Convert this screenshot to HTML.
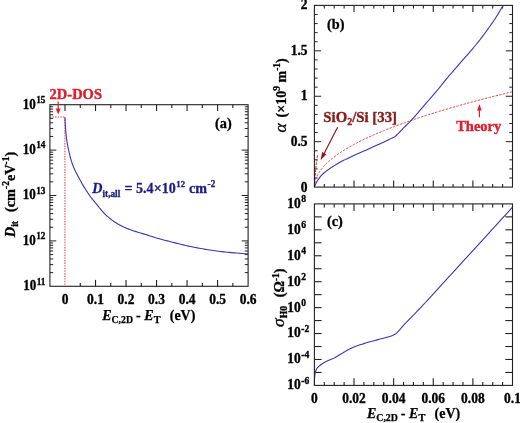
<!DOCTYPE html>
<html lang="en"><head><meta charset="utf-8"><title>Figure</title>
<style>html,body{margin:0;padding:0;background:#fff}svg{display:block;filter:blur(0.4px)}</style>
</head><body>
<svg width="520" height="423" viewBox="0 0 520 423">
<rect width="520" height="423" fill="#fff"/>
<line x1="65.00" y1="104.70" x2="65.00" y2="111.10" stroke="#222" stroke-width="1.1" />
<line x1="80.26" y1="286.30" x2="80.26" y2="283.00" stroke="#222" stroke-width="1.1" />
<line x1="80.26" y1="104.70" x2="80.26" y2="108.00" stroke="#222" stroke-width="1.1" />
<line x1="95.52" y1="286.30" x2="95.52" y2="279.90" stroke="#222" stroke-width="1.1" />
<line x1="95.52" y1="104.70" x2="95.52" y2="111.10" stroke="#222" stroke-width="1.1" />
<line x1="110.78" y1="286.30" x2="110.78" y2="283.00" stroke="#222" stroke-width="1.1" />
<line x1="110.78" y1="104.70" x2="110.78" y2="108.00" stroke="#222" stroke-width="1.1" />
<line x1="126.03" y1="286.30" x2="126.03" y2="279.90" stroke="#222" stroke-width="1.1" />
<line x1="126.03" y1="104.70" x2="126.03" y2="111.10" stroke="#222" stroke-width="1.1" />
<line x1="141.29" y1="286.30" x2="141.29" y2="283.00" stroke="#222" stroke-width="1.1" />
<line x1="141.29" y1="104.70" x2="141.29" y2="108.00" stroke="#222" stroke-width="1.1" />
<line x1="156.55" y1="286.30" x2="156.55" y2="279.90" stroke="#222" stroke-width="1.1" />
<line x1="156.55" y1="104.70" x2="156.55" y2="111.10" stroke="#222" stroke-width="1.1" />
<line x1="171.81" y1="286.30" x2="171.81" y2="283.00" stroke="#222" stroke-width="1.1" />
<line x1="171.81" y1="104.70" x2="171.81" y2="108.00" stroke="#222" stroke-width="1.1" />
<line x1="187.07" y1="286.30" x2="187.07" y2="279.90" stroke="#222" stroke-width="1.1" />
<line x1="187.07" y1="104.70" x2="187.07" y2="111.10" stroke="#222" stroke-width="1.1" />
<line x1="202.33" y1="286.30" x2="202.33" y2="283.00" stroke="#222" stroke-width="1.1" />
<line x1="202.33" y1="104.70" x2="202.33" y2="108.00" stroke="#222" stroke-width="1.1" />
<line x1="217.58" y1="286.30" x2="217.58" y2="279.90" stroke="#222" stroke-width="1.1" />
<line x1="217.58" y1="104.70" x2="217.58" y2="111.10" stroke="#222" stroke-width="1.1" />
<line x1="232.84" y1="286.30" x2="232.84" y2="283.00" stroke="#222" stroke-width="1.1" />
<line x1="232.84" y1="104.70" x2="232.84" y2="108.00" stroke="#222" stroke-width="1.1" />
<line x1="49.90" y1="272.63" x2="53.20" y2="272.63" stroke="#222" stroke-width="1.0" />
<line x1="248.10" y1="272.63" x2="244.80" y2="272.63" stroke="#222" stroke-width="1.0" />
<line x1="49.90" y1="264.64" x2="53.20" y2="264.64" stroke="#222" stroke-width="1.0" />
<line x1="248.10" y1="264.64" x2="244.80" y2="264.64" stroke="#222" stroke-width="1.0" />
<line x1="49.90" y1="258.97" x2="53.20" y2="258.97" stroke="#222" stroke-width="1.0" />
<line x1="248.10" y1="258.97" x2="244.80" y2="258.97" stroke="#222" stroke-width="1.0" />
<line x1="49.90" y1="254.57" x2="53.20" y2="254.57" stroke="#222" stroke-width="1.0" />
<line x1="248.10" y1="254.57" x2="244.80" y2="254.57" stroke="#222" stroke-width="1.0" />
<line x1="49.90" y1="250.97" x2="53.20" y2="250.97" stroke="#222" stroke-width="1.0" />
<line x1="248.10" y1="250.97" x2="244.80" y2="250.97" stroke="#222" stroke-width="1.0" />
<line x1="49.90" y1="247.93" x2="53.20" y2="247.93" stroke="#222" stroke-width="1.0" />
<line x1="248.10" y1="247.93" x2="244.80" y2="247.93" stroke="#222" stroke-width="1.0" />
<line x1="49.90" y1="245.30" x2="53.20" y2="245.30" stroke="#222" stroke-width="1.0" />
<line x1="248.10" y1="245.30" x2="244.80" y2="245.30" stroke="#222" stroke-width="1.0" />
<line x1="49.90" y1="242.98" x2="53.20" y2="242.98" stroke="#222" stroke-width="1.0" />
<line x1="248.10" y1="242.98" x2="244.80" y2="242.98" stroke="#222" stroke-width="1.0" />
<line x1="49.90" y1="240.90" x2="56.30" y2="240.90" stroke="#222" stroke-width="1.0" />
<line x1="248.10" y1="240.90" x2="241.70" y2="240.90" stroke="#222" stroke-width="1.0" />
<line x1="49.90" y1="227.23" x2="53.20" y2="227.23" stroke="#222" stroke-width="1.0" />
<line x1="248.10" y1="227.23" x2="244.80" y2="227.23" stroke="#222" stroke-width="1.0" />
<line x1="49.90" y1="219.24" x2="53.20" y2="219.24" stroke="#222" stroke-width="1.0" />
<line x1="248.10" y1="219.24" x2="244.80" y2="219.24" stroke="#222" stroke-width="1.0" />
<line x1="49.90" y1="213.57" x2="53.20" y2="213.57" stroke="#222" stroke-width="1.0" />
<line x1="248.10" y1="213.57" x2="244.80" y2="213.57" stroke="#222" stroke-width="1.0" />
<line x1="49.90" y1="209.17" x2="53.20" y2="209.17" stroke="#222" stroke-width="1.0" />
<line x1="248.10" y1="209.17" x2="244.80" y2="209.17" stroke="#222" stroke-width="1.0" />
<line x1="49.90" y1="205.57" x2="53.20" y2="205.57" stroke="#222" stroke-width="1.0" />
<line x1="248.10" y1="205.57" x2="244.80" y2="205.57" stroke="#222" stroke-width="1.0" />
<line x1="49.90" y1="202.53" x2="53.20" y2="202.53" stroke="#222" stroke-width="1.0" />
<line x1="248.10" y1="202.53" x2="244.80" y2="202.53" stroke="#222" stroke-width="1.0" />
<line x1="49.90" y1="199.90" x2="53.20" y2="199.90" stroke="#222" stroke-width="1.0" />
<line x1="248.10" y1="199.90" x2="244.80" y2="199.90" stroke="#222" stroke-width="1.0" />
<line x1="49.90" y1="197.58" x2="53.20" y2="197.58" stroke="#222" stroke-width="1.0" />
<line x1="248.10" y1="197.58" x2="244.80" y2="197.58" stroke="#222" stroke-width="1.0" />
<line x1="49.90" y1="195.50" x2="56.30" y2="195.50" stroke="#222" stroke-width="1.0" />
<line x1="248.10" y1="195.50" x2="241.70" y2="195.50" stroke="#222" stroke-width="1.0" />
<line x1="49.90" y1="181.83" x2="53.20" y2="181.83" stroke="#222" stroke-width="1.0" />
<line x1="248.10" y1="181.83" x2="244.80" y2="181.83" stroke="#222" stroke-width="1.0" />
<line x1="49.90" y1="173.84" x2="53.20" y2="173.84" stroke="#222" stroke-width="1.0" />
<line x1="248.10" y1="173.84" x2="244.80" y2="173.84" stroke="#222" stroke-width="1.0" />
<line x1="49.90" y1="168.17" x2="53.20" y2="168.17" stroke="#222" stroke-width="1.0" />
<line x1="248.10" y1="168.17" x2="244.80" y2="168.17" stroke="#222" stroke-width="1.0" />
<line x1="49.90" y1="163.77" x2="53.20" y2="163.77" stroke="#222" stroke-width="1.0" />
<line x1="248.10" y1="163.77" x2="244.80" y2="163.77" stroke="#222" stroke-width="1.0" />
<line x1="49.90" y1="160.17" x2="53.20" y2="160.17" stroke="#222" stroke-width="1.0" />
<line x1="248.10" y1="160.17" x2="244.80" y2="160.17" stroke="#222" stroke-width="1.0" />
<line x1="49.90" y1="157.13" x2="53.20" y2="157.13" stroke="#222" stroke-width="1.0" />
<line x1="248.10" y1="157.13" x2="244.80" y2="157.13" stroke="#222" stroke-width="1.0" />
<line x1="49.90" y1="154.50" x2="53.20" y2="154.50" stroke="#222" stroke-width="1.0" />
<line x1="248.10" y1="154.50" x2="244.80" y2="154.50" stroke="#222" stroke-width="1.0" />
<line x1="49.90" y1="152.18" x2="53.20" y2="152.18" stroke="#222" stroke-width="1.0" />
<line x1="248.10" y1="152.18" x2="244.80" y2="152.18" stroke="#222" stroke-width="1.0" />
<line x1="49.90" y1="150.10" x2="56.30" y2="150.10" stroke="#222" stroke-width="1.0" />
<line x1="248.10" y1="150.10" x2="241.70" y2="150.10" stroke="#222" stroke-width="1.0" />
<line x1="49.90" y1="136.43" x2="53.20" y2="136.43" stroke="#222" stroke-width="1.0" />
<line x1="248.10" y1="136.43" x2="244.80" y2="136.43" stroke="#222" stroke-width="1.0" />
<line x1="49.90" y1="128.44" x2="53.20" y2="128.44" stroke="#222" stroke-width="1.0" />
<line x1="248.10" y1="128.44" x2="244.80" y2="128.44" stroke="#222" stroke-width="1.0" />
<line x1="49.90" y1="122.77" x2="53.20" y2="122.77" stroke="#222" stroke-width="1.0" />
<line x1="248.10" y1="122.77" x2="244.80" y2="122.77" stroke="#222" stroke-width="1.0" />
<line x1="49.90" y1="118.37" x2="53.20" y2="118.37" stroke="#222" stroke-width="1.0" />
<line x1="248.10" y1="118.37" x2="244.80" y2="118.37" stroke="#222" stroke-width="1.0" />
<line x1="49.90" y1="114.77" x2="53.20" y2="114.77" stroke="#222" stroke-width="1.0" />
<line x1="248.10" y1="114.77" x2="244.80" y2="114.77" stroke="#222" stroke-width="1.0" />
<line x1="49.90" y1="111.73" x2="53.20" y2="111.73" stroke="#222" stroke-width="1.0" />
<line x1="248.10" y1="111.73" x2="244.80" y2="111.73" stroke="#222" stroke-width="1.0" />
<line x1="49.90" y1="109.10" x2="53.20" y2="109.10" stroke="#222" stroke-width="1.0" />
<line x1="248.10" y1="109.10" x2="244.80" y2="109.10" stroke="#222" stroke-width="1.0" />
<line x1="49.90" y1="106.78" x2="53.20" y2="106.78" stroke="#222" stroke-width="1.0" />
<line x1="248.10" y1="106.78" x2="244.80" y2="106.78" stroke="#222" stroke-width="1.0" />
<polyline points="49.90,117.00 64.90,117.00" fill="none" stroke="#e84a54" stroke-width="1.15" stroke-linejoin="round" stroke-dasharray="1.4 1.2"/>
<polyline points="64.90,117.00 64.90,286.30" fill="none" stroke="#e84a54" stroke-width="1.15" stroke-linejoin="round" stroke-dasharray="1.4 1.2"/>
<polyline points="64.90,117.60 64.94,118.25 64.99,119.10 65.04,120.13 65.11,121.26 65.18,122.47 65.25,123.69 65.32,124.88 65.40,126.00 65.48,127.07 65.55,128.14 65.63,129.22 65.71,130.30 65.80,131.38 65.89,132.46 65.99,133.53 66.10,134.60 66.22,135.67 66.34,136.75 66.47,137.83 66.61,138.91 66.75,139.97 66.89,141.01 67.05,142.02 67.20,143.00 67.36,143.93 67.52,144.81 67.69,145.67 67.86,146.50 68.03,147.33 68.21,148.16 68.40,149.01 68.60,149.90 68.81,150.83 69.02,151.78 69.24,152.76 69.47,153.74 69.70,154.72 69.93,155.68 70.17,156.61 70.40,157.50 70.63,158.34 70.85,159.15 71.07,159.92 71.29,160.68 71.52,161.43 71.77,162.18 72.02,162.95 72.30,163.74 72.59,164.55 72.90,165.38 73.22,166.22 73.56,167.06 73.90,167.90 74.26,168.75 74.62,169.58 75.00,170.41 75.38,171.22 75.78,172.01 76.18,172.78 76.59,173.56 77.02,174.35 77.46,175.16 77.92,176.00 78.40,176.88 78.90,177.81 79.42,178.79 79.96,179.79 80.51,180.82 81.08,181.86 81.65,182.89 82.22,183.91 82.80,184.90 83.38,185.88 83.98,186.86 84.59,187.84 85.20,188.81 85.81,189.77 86.42,190.71 87.02,191.62 87.60,192.50 88.17,193.34 88.72,194.16 89.26,194.94 89.79,195.71 90.33,196.46 90.87,197.20 91.43,197.95 92.00,198.70 92.59,199.45 93.20,200.20 93.81,200.94 94.44,201.68 95.06,202.42 95.68,203.15 96.30,203.87 96.90,204.60 97.49,205.33 98.07,206.06 98.65,206.79 99.22,207.51 99.79,208.23 100.36,208.94 100.93,209.63 101.50,210.30 102.07,210.95 102.62,211.58 103.17,212.20 103.72,212.80 104.28,213.40 104.86,213.99 105.46,214.59 106.10,215.20 106.77,215.82 107.47,216.44 108.20,217.07 108.94,217.69 109.69,218.31 110.46,218.92 111.23,219.52 112.00,220.10 112.77,220.66 113.54,221.21 114.31,221.75 115.09,222.27 115.89,222.79 116.70,223.30 117.54,223.80 118.40,224.30 119.29,224.79 120.21,225.28 121.16,225.76 122.12,226.23 123.09,226.69 124.06,227.14 125.04,227.58 126.00,228.00 126.94,228.40 127.85,228.77 128.76,229.13 129.67,229.48 130.60,229.83 131.58,230.17 132.60,230.53 133.70,230.90 134.85,231.28 136.04,231.65 137.27,232.03 138.54,232.41 139.87,232.80 141.25,233.21 142.69,233.64 144.20,234.10 145.80,234.60 147.49,235.13 149.25,235.69 151.07,236.27 152.91,236.85 154.76,237.42 156.60,237.98 158.40,238.50 160.18,239.00 161.95,239.48 163.73,239.95 165.51,240.41 167.28,240.86 169.06,241.31 170.83,241.75 172.60,242.20 174.37,242.65 176.13,243.11 177.89,243.56 179.65,244.01 181.41,244.45 183.17,244.88 184.93,245.30 186.70,245.70 188.47,246.09 190.24,246.46 192.02,246.82 193.79,247.17 195.57,247.52 197.35,247.85 199.12,248.18 200.90,248.50 202.68,248.82 204.45,249.13 206.22,249.43 208.00,249.72 209.78,250.01 211.55,250.29 213.33,250.55 215.10,250.80 216.84,251.03 218.54,251.25 220.23,251.45 221.92,251.64 223.65,251.83 225.43,252.02 227.31,252.20 229.30,252.40 231.55,252.61 234.10,252.84 236.80,253.07 239.54,253.30 242.16,253.52 244.53,253.71 246.53,253.88 248.00,254.00" fill="none" stroke="#3b34b8" stroke-width="1.1" stroke-linejoin="round" />
<rect x="49.90" y="104.70" width="198.20" height="181.60" fill="none" stroke="#222" stroke-width="1.1"/>
<line x1="58.20" y1="101.60" x2="58.20" y2="109.00" stroke="#dc1f2e" stroke-width="1.2" />
<polygon points="55.7,108.4 60.7,108.4 58.2,114.6" fill="#dc1f2e"/>
<text transform="translate(49.60,98.80) scale(1.0,1)" text-anchor="start" font-size="14.5" fill="#dc1f2e" stroke="#dc1f2e" stroke-width="0.4" font-family="Liberation Serif, serif" font-weight="bold">2D-DOS</text>
<text transform="translate(45.50,108.60) scale(0.9,1)" text-anchor="end" font-size="14.5" fill="#000" stroke="#000" stroke-width="0.35" font-family="Liberation Serif, serif" font-weight="bold">10<tspan font-size="10.3" dy="-5.6" dx="0.5">15</tspan></text>
<text transform="translate(45.50,154.00) scale(0.9,1)" text-anchor="end" font-size="14.5" fill="#000" stroke="#000" stroke-width="0.35" font-family="Liberation Serif, serif" font-weight="bold">10<tspan font-size="10.3" dy="-5.6" dx="0.5">14</tspan></text>
<text transform="translate(45.50,199.40) scale(0.9,1)" text-anchor="end" font-size="14.5" fill="#000" stroke="#000" stroke-width="0.35" font-family="Liberation Serif, serif" font-weight="bold">10<tspan font-size="10.3" dy="-5.6" dx="0.5">13</tspan></text>
<text transform="translate(45.50,244.80) scale(0.9,1)" text-anchor="end" font-size="14.5" fill="#000" stroke="#000" stroke-width="0.35" font-family="Liberation Serif, serif" font-weight="bold">10<tspan font-size="10.3" dy="-5.6" dx="0.5">12</tspan></text>
<text transform="translate(45.50,290.20) scale(0.9,1)" text-anchor="end" font-size="14.5" fill="#000" stroke="#000" stroke-width="0.35" font-family="Liberation Serif, serif" font-weight="bold">10<tspan font-size="10.3" dy="-5.6" dx="0.5">11</tspan></text>
<text transform="translate(65.00,304.30) scale(0.93,1)" text-anchor="middle" font-size="14.5" fill="#000" stroke="#000" stroke-width="0.35" font-family="Liberation Serif, serif" font-weight="bold">0</text>
<text transform="translate(95.52,304.30) scale(0.93,1)" text-anchor="middle" font-size="14.5" fill="#000" stroke="#000" stroke-width="0.35" font-family="Liberation Serif, serif" font-weight="bold">0.1</text>
<text transform="translate(126.03,304.30) scale(0.93,1)" text-anchor="middle" font-size="14.5" fill="#000" stroke="#000" stroke-width="0.35" font-family="Liberation Serif, serif" font-weight="bold">0.2</text>
<text transform="translate(156.55,304.30) scale(0.93,1)" text-anchor="middle" font-size="14.5" fill="#000" stroke="#000" stroke-width="0.35" font-family="Liberation Serif, serif" font-weight="bold">0.3</text>
<text transform="translate(187.07,304.30) scale(0.93,1)" text-anchor="middle" font-size="14.5" fill="#000" stroke="#000" stroke-width="0.35" font-family="Liberation Serif, serif" font-weight="bold">0.4</text>
<text transform="translate(217.58,304.30) scale(0.93,1)" text-anchor="middle" font-size="14.5" fill="#000" stroke="#000" stroke-width="0.35" font-family="Liberation Serif, serif" font-weight="bold">0.5</text>
<text transform="translate(248.10,304.30) scale(0.93,1)" text-anchor="middle" font-size="14.5" fill="#000" stroke="#000" stroke-width="0.35" font-family="Liberation Serif, serif" font-weight="bold">0.6</text>
<text transform="translate(102.20,320.00) scale(1.0,1)" text-anchor="start" font-size="14" fill="#000" stroke="#000" stroke-width="0.25" font-family="Liberation Serif, serif" font-weight="bold"><tspan font-style="italic">E</tspan><tspan font-size="9.8" dy="3">C,2D</tspan><tspan dy="-3" dx="-0.6"> - </tspan><tspan font-style="italic" dx="0.2">E</tspan><tspan font-size="10.3" dy="3">T</tspan><tspan dy="-3" dx="9.2">(eV)</tspan></text>
<text transform="translate(14.60,237.20) rotate(-90) scale(1.0,1)" text-anchor="start" font-size="14.3" fill="#000" stroke="#000" stroke-width="0.3" font-family="Liberation Serif, serif" font-weight="bold"><tspan font-style="italic">D</tspan><tspan font-size="9.5" dy="3">it</tspan><tspan dy="-3" dx="9.0">(cm</tspan><tspan font-size="9.5" dy="-5.5">-2</tspan><tspan dy="5.5">eV</tspan><tspan font-size="9.5" dy="-5.5">-1</tspan><tspan dy="5.5">)</tspan></text>
<text transform="translate(215.00,128.20) scale(1.0,1)" text-anchor="start" font-size="14.3" fill="#000" stroke="#000" stroke-width="0.3" font-family="Liberation Serif, serif" font-weight="bold">(a)</text>
<text transform="translate(92.30,193.30) scale(0.97,1)" text-anchor="start" font-size="14.5" fill="#1c1c84" stroke="#1c1c84" stroke-width="0.3" font-family="Liberation Serif, serif" font-weight="bold"><tspan font-style="italic">D</tspan><tspan font-size="9.6" dy="3.4">it,all</tspan><tspan dy="-3.4" dx="0.8"> = 5.4×10</tspan><tspan font-size="9" dy="-6.8" dx="0.6">12</tspan><tspan dy="6.8" dx="0.4"> cm</tspan><tspan font-size="9.4" dy="-6.8" dx="0.8">-2</tspan></text>
<line x1="324.30" y1="187.10" x2="324.30" y2="183.90" stroke="#222" stroke-width="1.1" />
<line x1="324.30" y1="5.40" x2="324.30" y2="8.60" stroke="#222" stroke-width="1.1" />
<line x1="334.21" y1="187.10" x2="334.21" y2="183.90" stroke="#222" stroke-width="1.1" />
<line x1="334.21" y1="5.40" x2="334.21" y2="8.60" stroke="#222" stroke-width="1.1" />
<line x1="344.12" y1="187.10" x2="344.12" y2="183.90" stroke="#222" stroke-width="1.1" />
<line x1="344.12" y1="5.40" x2="344.12" y2="8.60" stroke="#222" stroke-width="1.1" />
<line x1="354.02" y1="187.10" x2="354.02" y2="180.40" stroke="#222" stroke-width="1.1" />
<line x1="354.02" y1="5.40" x2="354.02" y2="12.10" stroke="#222" stroke-width="1.1" />
<line x1="363.92" y1="187.10" x2="363.92" y2="183.90" stroke="#222" stroke-width="1.1" />
<line x1="363.92" y1="5.40" x2="363.92" y2="8.60" stroke="#222" stroke-width="1.1" />
<line x1="373.83" y1="187.10" x2="373.83" y2="183.90" stroke="#222" stroke-width="1.1" />
<line x1="373.83" y1="5.40" x2="373.83" y2="8.60" stroke="#222" stroke-width="1.1" />
<line x1="383.74" y1="187.10" x2="383.74" y2="183.90" stroke="#222" stroke-width="1.1" />
<line x1="383.74" y1="5.40" x2="383.74" y2="8.60" stroke="#222" stroke-width="1.1" />
<line x1="393.64" y1="187.10" x2="393.64" y2="180.40" stroke="#222" stroke-width="1.1" />
<line x1="393.64" y1="5.40" x2="393.64" y2="12.10" stroke="#222" stroke-width="1.1" />
<line x1="403.54" y1="187.10" x2="403.54" y2="183.90" stroke="#222" stroke-width="1.1" />
<line x1="403.54" y1="5.40" x2="403.54" y2="8.60" stroke="#222" stroke-width="1.1" />
<line x1="413.45" y1="187.10" x2="413.45" y2="183.90" stroke="#222" stroke-width="1.1" />
<line x1="413.45" y1="5.40" x2="413.45" y2="8.60" stroke="#222" stroke-width="1.1" />
<line x1="423.36" y1="187.10" x2="423.36" y2="183.90" stroke="#222" stroke-width="1.1" />
<line x1="423.36" y1="5.40" x2="423.36" y2="8.60" stroke="#222" stroke-width="1.1" />
<line x1="433.26" y1="187.10" x2="433.26" y2="180.40" stroke="#222" stroke-width="1.1" />
<line x1="433.26" y1="5.40" x2="433.26" y2="12.10" stroke="#222" stroke-width="1.1" />
<line x1="443.16" y1="187.10" x2="443.16" y2="183.90" stroke="#222" stroke-width="1.1" />
<line x1="443.16" y1="5.40" x2="443.16" y2="8.60" stroke="#222" stroke-width="1.1" />
<line x1="453.07" y1="187.10" x2="453.07" y2="183.90" stroke="#222" stroke-width="1.1" />
<line x1="453.07" y1="5.40" x2="453.07" y2="8.60" stroke="#222" stroke-width="1.1" />
<line x1="462.98" y1="187.10" x2="462.98" y2="183.90" stroke="#222" stroke-width="1.1" />
<line x1="462.98" y1="5.40" x2="462.98" y2="8.60" stroke="#222" stroke-width="1.1" />
<line x1="472.88" y1="187.10" x2="472.88" y2="180.40" stroke="#222" stroke-width="1.1" />
<line x1="472.88" y1="5.40" x2="472.88" y2="12.10" stroke="#222" stroke-width="1.1" />
<line x1="482.78" y1="187.10" x2="482.78" y2="183.90" stroke="#222" stroke-width="1.1" />
<line x1="482.78" y1="5.40" x2="482.78" y2="8.60" stroke="#222" stroke-width="1.1" />
<line x1="492.69" y1="187.10" x2="492.69" y2="183.90" stroke="#222" stroke-width="1.1" />
<line x1="492.69" y1="5.40" x2="492.69" y2="8.60" stroke="#222" stroke-width="1.1" />
<line x1="502.60" y1="187.10" x2="502.60" y2="183.90" stroke="#222" stroke-width="1.1" />
<line x1="502.60" y1="5.40" x2="502.60" y2="8.60" stroke="#222" stroke-width="1.1" />
<line x1="314.40" y1="178.01" x2="317.60" y2="178.01" stroke="#222" stroke-width="1.0" />
<line x1="512.50" y1="178.01" x2="509.30" y2="178.01" stroke="#222" stroke-width="1.0" />
<line x1="314.40" y1="168.93" x2="317.60" y2="168.93" stroke="#222" stroke-width="1.0" />
<line x1="512.50" y1="168.93" x2="509.30" y2="168.93" stroke="#222" stroke-width="1.0" />
<line x1="314.40" y1="159.84" x2="317.60" y2="159.84" stroke="#222" stroke-width="1.0" />
<line x1="512.50" y1="159.84" x2="509.30" y2="159.84" stroke="#222" stroke-width="1.0" />
<line x1="314.40" y1="150.76" x2="317.60" y2="150.76" stroke="#222" stroke-width="1.0" />
<line x1="512.50" y1="150.76" x2="509.30" y2="150.76" stroke="#222" stroke-width="1.0" />
<line x1="314.40" y1="141.68" x2="321.10" y2="141.68" stroke="#222" stroke-width="1.0" />
<line x1="512.50" y1="141.68" x2="505.80" y2="141.68" stroke="#222" stroke-width="1.0" />
<line x1="314.40" y1="132.59" x2="317.60" y2="132.59" stroke="#222" stroke-width="1.0" />
<line x1="512.50" y1="132.59" x2="509.30" y2="132.59" stroke="#222" stroke-width="1.0" />
<line x1="314.40" y1="123.50" x2="317.60" y2="123.50" stroke="#222" stroke-width="1.0" />
<line x1="512.50" y1="123.50" x2="509.30" y2="123.50" stroke="#222" stroke-width="1.0" />
<line x1="314.40" y1="114.42" x2="317.60" y2="114.42" stroke="#222" stroke-width="1.0" />
<line x1="512.50" y1="114.42" x2="509.30" y2="114.42" stroke="#222" stroke-width="1.0" />
<line x1="314.40" y1="105.33" x2="317.60" y2="105.33" stroke="#222" stroke-width="1.0" />
<line x1="512.50" y1="105.33" x2="509.30" y2="105.33" stroke="#222" stroke-width="1.0" />
<line x1="314.40" y1="96.25" x2="321.10" y2="96.25" stroke="#222" stroke-width="1.0" />
<line x1="512.50" y1="96.25" x2="505.80" y2="96.25" stroke="#222" stroke-width="1.0" />
<line x1="314.40" y1="87.16" x2="317.60" y2="87.16" stroke="#222" stroke-width="1.0" />
<line x1="512.50" y1="87.16" x2="509.30" y2="87.16" stroke="#222" stroke-width="1.0" />
<line x1="314.40" y1="78.08" x2="317.60" y2="78.08" stroke="#222" stroke-width="1.0" />
<line x1="512.50" y1="78.08" x2="509.30" y2="78.08" stroke="#222" stroke-width="1.0" />
<line x1="314.40" y1="69.00" x2="317.60" y2="69.00" stroke="#222" stroke-width="1.0" />
<line x1="512.50" y1="69.00" x2="509.30" y2="69.00" stroke="#222" stroke-width="1.0" />
<line x1="314.40" y1="59.91" x2="317.60" y2="59.91" stroke="#222" stroke-width="1.0" />
<line x1="512.50" y1="59.91" x2="509.30" y2="59.91" stroke="#222" stroke-width="1.0" />
<line x1="314.40" y1="50.83" x2="321.10" y2="50.83" stroke="#222" stroke-width="1.0" />
<line x1="512.50" y1="50.83" x2="505.80" y2="50.83" stroke="#222" stroke-width="1.0" />
<line x1="314.40" y1="41.74" x2="317.60" y2="41.74" stroke="#222" stroke-width="1.0" />
<line x1="512.50" y1="41.74" x2="509.30" y2="41.74" stroke="#222" stroke-width="1.0" />
<line x1="314.40" y1="32.66" x2="317.60" y2="32.66" stroke="#222" stroke-width="1.0" />
<line x1="512.50" y1="32.66" x2="509.30" y2="32.66" stroke="#222" stroke-width="1.0" />
<line x1="314.40" y1="23.57" x2="317.60" y2="23.57" stroke="#222" stroke-width="1.0" />
<line x1="512.50" y1="23.57" x2="509.30" y2="23.57" stroke="#222" stroke-width="1.0" />
<line x1="314.40" y1="14.48" x2="317.60" y2="14.48" stroke="#222" stroke-width="1.0" />
<line x1="512.50" y1="14.48" x2="509.30" y2="14.48" stroke="#222" stroke-width="1.0" />
<polyline points="314.40,187.10 314.40,186.62 314.42,186.15 314.44,185.67 314.48,185.19 314.52,184.72 314.58,184.24 314.64,183.76 314.72,183.28 314.80,182.81 314.90,182.33 315.00,181.85 315.11,181.38 315.24,180.90 315.37,180.42 315.51,179.95 315.67,179.47 315.83,178.99 316.00,178.51 316.19,178.04 316.38,177.56 316.58,177.08 316.80,176.61 317.02,176.13 317.25,175.65 317.50,175.18 317.75,174.70 318.01,174.22 318.28,173.75 318.57,173.27 318.86,172.79 319.16,172.31 319.47,171.84 319.79,171.36 320.13,170.88 320.47,170.41 320.82,169.93 321.18,169.45 321.55,168.98 321.93,168.50 322.32,168.02 322.73,167.54 323.14,167.07 323.56,166.59 323.99,166.11 324.43,165.64 324.88,165.16 325.34,164.68 325.81,164.21 326.29,163.73 326.78,163.25 327.28,162.77 327.79,162.30 328.31,161.82 328.84,161.34 329.38,160.87 329.93,160.39 330.49,159.91 331.06,159.44 331.64,158.96 332.23,158.48 332.83,158.01 333.44,157.53 334.06,157.05 334.69,156.57 335.32,156.10 335.97,155.62 336.63,155.14 337.30,154.67 337.98,154.19 338.67,153.71 339.37,153.24 340.07,152.76 340.79,152.28 341.52,151.80 342.26,151.33 343.01,150.85 343.76,150.37 344.53,149.90 345.31,149.42 346.10,148.94 346.89,148.47 347.70,147.99 348.52,147.51 349.34,147.04 350.18,146.56 351.03,146.08 351.89,145.60 352.75,145.13 353.63,144.65 354.52,144.17 355.41,143.70 356.32,143.22 357.23,142.74 358.16,142.27 359.10,141.79 360.04,141.31 361.00,140.83 361.96,140.36 362.94,139.88 363.92,139.40 364.92,138.93 365.93,138.45 366.94,137.97 367.97,137.50 369.00,137.02 370.05,136.54 371.10,136.07 372.17,135.59 373.24,135.11 374.33,134.63 375.42,134.16 376.52,133.68 377.64,133.20 378.76,132.73 379.90,132.25 381.04,131.77 382.19,131.30 383.36,130.82 384.53,130.34 385.72,129.86 386.91,129.39 388.11,128.91 389.33,128.43 390.55,127.96 391.78,127.48 393.03,127.00 394.28,126.53 395.54,126.05 396.81,125.57 398.10,125.09 399.39,124.62 400.69,124.14 402.00,123.66 403.33,123.19 404.66,122.71 406.00,122.23 407.35,121.76 408.72,121.28 410.09,120.80 411.47,120.33 412.86,119.85 414.26,119.37 415.67,118.89 417.10,118.42 418.53,117.94 419.97,117.46 421.42,116.99 422.88,116.51 424.35,116.03 425.83,115.56 427.32,115.08 428.82,114.60 430.33,114.12 431.85,113.65 433.38,113.17 434.92,112.69 436.47,112.22 438.03,111.74 439.60,111.26 441.18,110.79 442.77,110.31 444.37,109.83 445.98,109.36 447.60,108.88 449.23,108.40 450.87,107.92 452.52,107.45 454.18,106.97 455.85,106.49 457.53,106.02 459.22,105.54 460.91,105.06 462.62,104.59 464.34,104.11 466.07,103.63 467.81,103.15 469.56,102.68 471.32,102.20 473.08,101.72 474.86,101.25 476.65,100.77 478.45,100.29 480.25,99.82 482.07,99.34 483.90,98.86 485.74,98.38 487.58,97.91 489.44,97.43 491.31,96.95 493.19,96.48 495.07,96.00 496.97,95.52 498.88,95.05 500.79,94.57 502.72,94.09 504.66,93.62 506.60,93.14 508.56,92.66 510.52,92.18 512.50,91.71" fill="none" stroke="#e2434a" stroke-width="1.0" stroke-linejoin="round" stroke-dasharray="2.4 1.3"/>
<polyline points="314.50,186.50 314.90,180.00 315.40,173.00 316.00,166.00 316.80,160.00 317.60,155.00" fill="none" stroke="#8f3030" stroke-width="0.9" stroke-linejoin="round" stroke-dasharray="2.6 1.0"/>
<polyline points="314.40,186.90 314.56,186.54 314.76,186.06 315.01,185.49 315.28,184.86 315.58,184.19 315.88,183.52 316.19,182.88 316.50,182.30 316.80,181.76 317.12,181.24 317.44,180.72 317.77,180.21 318.12,179.70 318.47,179.20 318.83,178.70 319.20,178.20 319.58,177.70 319.97,177.19 320.37,176.69 320.78,176.19 321.20,175.70 321.63,175.22 322.06,174.75 322.50,174.30 322.93,173.88 323.34,173.49 323.74,173.12 324.16,172.76 324.61,172.39 325.11,172.00 325.66,171.58 326.30,171.10 327.03,170.56 327.85,169.97 328.74,169.34 329.67,168.69 330.63,168.04 331.58,167.39 332.51,166.78 333.40,166.20 334.24,165.66 335.06,165.15 335.87,164.66 336.67,164.19 337.47,163.72 338.29,163.25 339.13,162.78 340.00,162.30 340.90,161.81 341.81,161.33 342.74,160.84 343.69,160.36 344.65,159.87 345.62,159.38 346.60,158.89 347.60,158.40 348.61,157.90 349.63,157.40 350.67,156.90 351.71,156.39 352.77,155.89 353.84,155.39 354.92,154.89 356.00,154.40 357.10,153.92 358.22,153.44 359.35,152.96 360.49,152.49 361.64,152.02 362.77,151.55 363.89,151.08 365.00,150.60 366.07,150.13 367.09,149.66 368.09,149.20 369.09,148.74 370.11,148.26 371.18,147.77 372.30,147.25 373.50,146.70 374.81,146.11 376.21,145.48 377.68,144.82 379.19,144.14 380.70,143.46 382.20,142.79 383.64,142.13 385.00,141.50 386.35,140.86 387.74,140.20 389.13,139.53 390.47,138.88 391.72,138.26 392.84,137.71 393.78,137.25 394.50,136.90 394.63,136.80 394.79,136.67 394.98,136.52 395.20,136.34 395.44,136.15 395.69,135.95 395.94,135.73 396.20,135.50 396.46,135.26 396.73,135.01 397.01,134.75 397.31,134.47 397.61,134.18 397.93,133.87 398.26,133.55 398.60,133.20 398.90,132.89 399.14,132.63 399.36,132.38 399.61,132.11 399.93,131.75 400.38,131.28 400.98,130.64 401.80,129.80 402.86,128.72 404.14,127.45 405.59,126.01 407.16,124.46 408.79,122.82 410.44,121.14 412.06,119.45 413.60,117.80 415.08,116.15 416.57,114.45 418.06,112.71 419.56,110.94 421.05,109.17 422.54,107.39 424.02,105.63 425.50,103.90 426.98,102.19 428.47,100.49 429.95,98.79 431.44,97.09 432.91,95.41 434.36,93.73 435.80,92.06 437.20,90.40 438.56,88.76 439.88,87.13 441.16,85.52 442.44,83.92 443.71,82.31 445.00,80.69 446.33,79.06 447.70,77.40 449.12,75.71 450.58,74.00 452.06,72.27 453.56,70.53 455.08,68.79 456.59,67.05 458.10,65.32 459.60,63.60 461.10,61.89 462.63,60.16 464.17,58.44 465.70,56.72 467.21,55.02 468.69,53.34 470.13,51.70 471.50,50.10 472.82,48.54 474.10,47.00 475.35,45.48 476.56,44.00 477.73,42.55 478.86,41.13 479.95,39.74 481.00,38.40 482.00,37.11 482.94,35.87 483.83,34.67 484.68,33.51 485.51,32.36 486.34,31.22 487.16,30.07 488.00,28.90 488.86,27.70 489.73,26.49 490.60,25.27 491.46,24.05 492.30,22.85 493.11,21.69 493.88,20.56 494.60,19.50 495.26,18.50 495.86,17.56 496.43,16.66 496.96,15.79 497.48,14.94 497.98,14.10 498.48,13.26 499.00,12.40 499.55,11.49 500.12,10.52 500.71,9.53 501.27,8.56 501.81,7.64 502.29,6.81 502.69,6.12 503.00,5.60" fill="none" stroke="#3b34b8" stroke-width="1.1" stroke-linejoin="round" />
<rect x="314.40" y="5.40" width="198.10" height="181.70" fill="none" stroke="#222" stroke-width="1.1"/>
<text transform="translate(307.50,191.80) scale(0.93,1)" text-anchor="end" font-size="14.5" fill="#000" stroke="#000" stroke-width="0.35" font-family="Liberation Serif, serif" font-weight="bold">0</text>
<text transform="translate(307.50,146.10) scale(0.93,1)" text-anchor="end" font-size="14.5" fill="#000" stroke="#000" stroke-width="0.35" font-family="Liberation Serif, serif" font-weight="bold">0.5</text>
<text transform="translate(307.50,100.40) scale(0.93,1)" text-anchor="end" font-size="14.5" fill="#000" stroke="#000" stroke-width="0.35" font-family="Liberation Serif, serif" font-weight="bold">1</text>
<text transform="translate(307.50,54.70) scale(0.93,1)" text-anchor="end" font-size="14.5" fill="#000" stroke="#000" stroke-width="0.35" font-family="Liberation Serif, serif" font-weight="bold">1.5</text>
<text transform="translate(307.50,9.00) scale(0.93,1)" text-anchor="end" font-size="14.5" fill="#000" stroke="#000" stroke-width="0.35" font-family="Liberation Serif, serif" font-weight="bold">2</text>
<text transform="translate(285.70,132.40) rotate(-90) scale(1.0,1)" text-anchor="start" font-size="14" fill="#000" stroke="#000" stroke-width="0.3" font-family="Liberation Serif, serif" font-weight="bold"><tspan font-style="italic" font-weight="normal" font-size="17.5" stroke-width="0.3">α</tspan><tspan dx="5.8">(×10</tspan><tspan font-size="9.5" dy="-5.5">9</tspan><tspan dy="5.5"> m</tspan><tspan font-size="9.5" dy="-5.5">-1</tspan><tspan dy="5.5">)</tspan></text>
<text transform="translate(327.00,29.00) scale(1.0,1)" text-anchor="start" font-size="14.3" fill="#000" stroke="#000" stroke-width="0.3" font-family="Liberation Serif, serif" font-weight="bold">(b)</text>
<text transform="translate(323.30,121.90) scale(1.0,1)" text-anchor="start" font-size="14.8" fill="#8a1c1c" stroke="#8a1c1c" stroke-width="0.4" font-family="Liberation Serif, serif" font-weight="bold">SiO<tspan font-size="10" dy="3">2</tspan><tspan dy="-3">/Si [33]</tspan></text>
<line x1="337.60" y1="127.30" x2="323.60" y2="154.50" stroke="#8a1c1c" stroke-width="1.2" />
<polygon points="320.6,160.3 326.4,154.3 322.1,152.1" fill="#8a1c1c"/>
<text transform="translate(456.20,130.60) scale(1.0,1)" text-anchor="start" font-size="14.5" fill="#dc1f2e" stroke="#dc1f2e" stroke-width="0.4" font-family="Liberation Serif, serif" font-weight="bold">Theory</text>
<line x1="479.40" y1="117.30" x2="479.40" y2="109.50" stroke="#dc1f2e" stroke-width="1.2" />
<polygon points="477.1,110.6 481.7,110.6 479.4,104.0" fill="#dc1f2e"/>
<line x1="324.30" y1="385.40" x2="324.30" y2="381.90" stroke="#222" stroke-width="1.1" />
<line x1="324.30" y1="203.90" x2="324.30" y2="207.40" stroke="#222" stroke-width="1.1" />
<line x1="334.21" y1="385.40" x2="334.21" y2="381.90" stroke="#222" stroke-width="1.1" />
<line x1="334.21" y1="203.90" x2="334.21" y2="207.40" stroke="#222" stroke-width="1.1" />
<line x1="344.12" y1="385.40" x2="344.12" y2="381.90" stroke="#222" stroke-width="1.1" />
<line x1="344.12" y1="203.90" x2="344.12" y2="207.40" stroke="#222" stroke-width="1.1" />
<line x1="354.02" y1="385.40" x2="354.02" y2="378.20" stroke="#222" stroke-width="1.1" />
<line x1="354.02" y1="203.90" x2="354.02" y2="211.10" stroke="#222" stroke-width="1.1" />
<line x1="363.92" y1="385.40" x2="363.92" y2="381.90" stroke="#222" stroke-width="1.1" />
<line x1="363.92" y1="203.90" x2="363.92" y2="207.40" stroke="#222" stroke-width="1.1" />
<line x1="373.83" y1="385.40" x2="373.83" y2="381.90" stroke="#222" stroke-width="1.1" />
<line x1="373.83" y1="203.90" x2="373.83" y2="207.40" stroke="#222" stroke-width="1.1" />
<line x1="383.74" y1="385.40" x2="383.74" y2="381.90" stroke="#222" stroke-width="1.1" />
<line x1="383.74" y1="203.90" x2="383.74" y2="207.40" stroke="#222" stroke-width="1.1" />
<line x1="393.64" y1="385.40" x2="393.64" y2="378.20" stroke="#222" stroke-width="1.1" />
<line x1="393.64" y1="203.90" x2="393.64" y2="211.10" stroke="#222" stroke-width="1.1" />
<line x1="403.54" y1="385.40" x2="403.54" y2="381.90" stroke="#222" stroke-width="1.1" />
<line x1="403.54" y1="203.90" x2="403.54" y2="207.40" stroke="#222" stroke-width="1.1" />
<line x1="413.45" y1="385.40" x2="413.45" y2="381.90" stroke="#222" stroke-width="1.1" />
<line x1="413.45" y1="203.90" x2="413.45" y2="207.40" stroke="#222" stroke-width="1.1" />
<line x1="423.36" y1="385.40" x2="423.36" y2="381.90" stroke="#222" stroke-width="1.1" />
<line x1="423.36" y1="203.90" x2="423.36" y2="207.40" stroke="#222" stroke-width="1.1" />
<line x1="433.26" y1="385.40" x2="433.26" y2="378.20" stroke="#222" stroke-width="1.1" />
<line x1="433.26" y1="203.90" x2="433.26" y2="211.10" stroke="#222" stroke-width="1.1" />
<line x1="443.16" y1="385.40" x2="443.16" y2="381.90" stroke="#222" stroke-width="1.1" />
<line x1="443.16" y1="203.90" x2="443.16" y2="207.40" stroke="#222" stroke-width="1.1" />
<line x1="453.07" y1="385.40" x2="453.07" y2="381.90" stroke="#222" stroke-width="1.1" />
<line x1="453.07" y1="203.90" x2="453.07" y2="207.40" stroke="#222" stroke-width="1.1" />
<line x1="462.98" y1="385.40" x2="462.98" y2="381.90" stroke="#222" stroke-width="1.1" />
<line x1="462.98" y1="203.90" x2="462.98" y2="207.40" stroke="#222" stroke-width="1.1" />
<line x1="472.88" y1="385.40" x2="472.88" y2="378.20" stroke="#222" stroke-width="1.1" />
<line x1="472.88" y1="203.90" x2="472.88" y2="211.10" stroke="#222" stroke-width="1.1" />
<line x1="482.78" y1="385.40" x2="482.78" y2="381.90" stroke="#222" stroke-width="1.1" />
<line x1="482.78" y1="203.90" x2="482.78" y2="207.40" stroke="#222" stroke-width="1.1" />
<line x1="492.69" y1="385.40" x2="492.69" y2="381.90" stroke="#222" stroke-width="1.1" />
<line x1="492.69" y1="203.90" x2="492.69" y2="207.40" stroke="#222" stroke-width="1.1" />
<line x1="502.60" y1="385.40" x2="502.60" y2="381.90" stroke="#222" stroke-width="1.1" />
<line x1="502.60" y1="203.90" x2="502.60" y2="207.40" stroke="#222" stroke-width="1.1" />
<line x1="314.40" y1="372.44" x2="321.60" y2="372.44" stroke="#222" stroke-width="1.1" />
<line x1="512.50" y1="372.44" x2="505.30" y2="372.44" stroke="#222" stroke-width="1.1" />
<line x1="314.40" y1="359.47" x2="321.60" y2="359.47" stroke="#222" stroke-width="1.1" />
<line x1="512.50" y1="359.47" x2="505.30" y2="359.47" stroke="#222" stroke-width="1.1" />
<line x1="314.40" y1="346.51" x2="321.60" y2="346.51" stroke="#222" stroke-width="1.1" />
<line x1="512.50" y1="346.51" x2="505.30" y2="346.51" stroke="#222" stroke-width="1.1" />
<line x1="314.40" y1="333.54" x2="321.60" y2="333.54" stroke="#222" stroke-width="1.1" />
<line x1="512.50" y1="333.54" x2="505.30" y2="333.54" stroke="#222" stroke-width="1.1" />
<line x1="314.40" y1="320.58" x2="321.60" y2="320.58" stroke="#222" stroke-width="1.1" />
<line x1="512.50" y1="320.58" x2="505.30" y2="320.58" stroke="#222" stroke-width="1.1" />
<line x1="314.40" y1="307.61" x2="321.60" y2="307.61" stroke="#222" stroke-width="1.1" />
<line x1="512.50" y1="307.61" x2="505.30" y2="307.61" stroke="#222" stroke-width="1.1" />
<line x1="314.40" y1="294.65" x2="321.60" y2="294.65" stroke="#222" stroke-width="1.1" />
<line x1="512.50" y1="294.65" x2="505.30" y2="294.65" stroke="#222" stroke-width="1.1" />
<line x1="314.40" y1="281.69" x2="321.60" y2="281.69" stroke="#222" stroke-width="1.1" />
<line x1="512.50" y1="281.69" x2="505.30" y2="281.69" stroke="#222" stroke-width="1.1" />
<line x1="314.40" y1="268.72" x2="321.60" y2="268.72" stroke="#222" stroke-width="1.1" />
<line x1="512.50" y1="268.72" x2="505.30" y2="268.72" stroke="#222" stroke-width="1.1" />
<line x1="314.40" y1="255.76" x2="321.60" y2="255.76" stroke="#222" stroke-width="1.1" />
<line x1="512.50" y1="255.76" x2="505.30" y2="255.76" stroke="#222" stroke-width="1.1" />
<line x1="314.40" y1="242.79" x2="321.60" y2="242.79" stroke="#222" stroke-width="1.1" />
<line x1="512.50" y1="242.79" x2="505.30" y2="242.79" stroke="#222" stroke-width="1.1" />
<line x1="314.40" y1="229.83" x2="321.60" y2="229.83" stroke="#222" stroke-width="1.1" />
<line x1="512.50" y1="229.83" x2="505.30" y2="229.83" stroke="#222" stroke-width="1.1" />
<line x1="314.40" y1="216.86" x2="321.60" y2="216.86" stroke="#222" stroke-width="1.1" />
<line x1="512.50" y1="216.86" x2="505.30" y2="216.86" stroke="#222" stroke-width="1.1" />
<polyline points="314.40,385.00 314.41,384.40 314.42,383.59 314.43,382.63 314.44,381.57 314.46,380.46 314.49,379.36 314.54,378.32 314.60,377.40 314.68,376.56 314.78,375.74 314.90,374.94 315.03,374.17 315.16,373.44 315.30,372.75 315.45,372.10 315.60,371.50 315.75,370.96 315.90,370.49 316.06,370.06 316.23,369.67 316.40,369.31 316.58,368.97 316.78,368.63 317.00,368.30 317.23,367.98 317.48,367.68 317.74,367.40 318.01,367.13 318.30,366.87 318.59,366.62 318.89,366.36 319.20,366.10 319.52,365.83 319.85,365.56 320.19,365.30 320.54,365.03 320.90,364.77 321.26,364.51 321.63,364.25 322.00,364.00 322.36,363.75 322.72,363.52 323.08,363.28 323.45,363.05 323.83,362.82 324.23,362.58 324.65,362.35 325.10,362.10 325.58,361.85 326.09,361.59 326.63,361.33 327.18,361.07 327.75,360.80 328.33,360.54 328.91,360.27 329.50,360.00 330.09,359.74 330.67,359.49 331.27,359.25 331.87,359.01 332.49,358.75 333.13,358.46 333.80,358.15 334.50,357.80 335.23,357.41 335.99,356.98 336.77,356.52 337.58,356.04 338.41,355.55 339.26,355.04 340.12,354.52 341.00,354.00 341.91,353.46 342.86,352.89 343.84,352.30 344.83,351.71 345.83,351.12 346.81,350.54 347.77,350.00 348.70,349.50 349.59,349.04 350.45,348.61 351.29,348.21 352.12,347.82 352.95,347.46 353.78,347.10 354.63,346.75 355.50,346.40 356.40,346.06 357.31,345.72 358.24,345.40 359.18,345.09 360.12,344.78 361.06,344.48 361.99,344.19 362.90,343.90 363.79,343.62 364.67,343.35 365.54,343.09 366.40,342.83 367.27,342.58 368.15,342.32 369.06,342.06 370.00,341.80 370.98,341.53 371.98,341.25 373.01,340.98 374.06,340.70 375.11,340.42 376.15,340.15 377.19,339.87 378.20,339.60 379.20,339.33 380.21,339.06 381.22,338.80 382.21,338.53 383.20,338.27 384.16,338.01 385.09,337.75 386.00,337.50 386.91,337.24 387.85,336.97 388.78,336.69 389.69,336.42 390.53,336.16 391.28,335.94 391.92,335.75 392.40,335.60 392.60,335.49 392.88,335.36 393.21,335.19 393.57,335.01 393.95,334.81 394.32,334.60 394.68,334.40 395.00,334.20 395.28,334.02 395.53,333.84 395.77,333.67 396.00,333.49 396.24,333.30 396.50,333.07 396.78,332.81 397.10,332.50 397.46,332.14 397.85,331.73 398.27,331.28 398.70,330.81 399.15,330.31 399.60,329.81 400.05,329.30 400.50,328.80 400.91,328.34 401.27,327.92 401.61,327.51 401.97,327.08 402.37,326.61 402.86,326.06 403.46,325.40 404.20,324.60 405.10,323.66 406.12,322.59 407.26,321.42 408.48,320.18 409.75,318.87 411.06,317.52 412.39,316.16 413.70,314.80 414.93,313.53 416.08,312.36 417.20,311.21 418.38,310.00 419.68,308.66 421.17,307.09 422.92,305.24 425.00,303.00 427.44,300.36 430.17,297.37 433.15,294.10 436.33,290.61 439.66,286.96 443.08,283.20 446.54,279.39 450.00,275.60 453.50,271.78 457.09,267.84 460.78,263.81 464.54,259.70 468.36,255.53 472.22,251.31 476.11,247.06 480.00,242.80 484.15,238.26 488.67,233.30 493.36,228.16 498.02,223.05 502.45,218.20 506.44,213.82 509.79,210.15 512.30,207.40" fill="none" stroke="#3b34b8" stroke-width="1.1" stroke-linejoin="round" />
<rect x="314.40" y="203.90" width="198.10" height="181.50" fill="none" stroke="#222" stroke-width="1.1"/>
<text transform="translate(287.30,389.30) scale(0.93,1)" text-anchor="start" font-size="14.5" fill="#000" stroke="#000" stroke-width="0.35" font-family="Liberation Serif, serif" font-weight="bold">10<tspan font-size="10.3" dy="-5.6" dx="0.5">-6</tspan></text>
<text transform="translate(287.30,363.37) scale(0.93,1)" text-anchor="start" font-size="14.5" fill="#000" stroke="#000" stroke-width="0.35" font-family="Liberation Serif, serif" font-weight="bold">10<tspan font-size="10.3" dy="-5.6" dx="0.5">-4</tspan></text>
<text transform="translate(287.30,337.44) scale(0.93,1)" text-anchor="start" font-size="14.5" fill="#000" stroke="#000" stroke-width="0.35" font-family="Liberation Serif, serif" font-weight="bold">10<tspan font-size="10.3" dy="-5.6" dx="0.5">-2</tspan></text>
<text transform="translate(287.30,311.51) scale(0.93,1)" text-anchor="start" font-size="14.5" fill="#000" stroke="#000" stroke-width="0.35" font-family="Liberation Serif, serif" font-weight="bold">10<tspan font-size="10.3" dy="-5.6" dx="0.5">0</tspan></text>
<text transform="translate(287.30,285.59) scale(0.93,1)" text-anchor="start" font-size="14.5" fill="#000" stroke="#000" stroke-width="0.35" font-family="Liberation Serif, serif" font-weight="bold">10<tspan font-size="10.3" dy="-5.6" dx="0.5">2</tspan></text>
<text transform="translate(287.30,259.66) scale(0.93,1)" text-anchor="start" font-size="14.5" fill="#000" stroke="#000" stroke-width="0.35" font-family="Liberation Serif, serif" font-weight="bold">10<tspan font-size="10.3" dy="-5.6" dx="0.5">4</tspan></text>
<text transform="translate(287.30,233.73) scale(0.93,1)" text-anchor="start" font-size="14.5" fill="#000" stroke="#000" stroke-width="0.35" font-family="Liberation Serif, serif" font-weight="bold">10<tspan font-size="10.3" dy="-5.6" dx="0.5">6</tspan></text>
<text transform="translate(287.30,207.80) scale(0.93,1)" text-anchor="start" font-size="14.5" fill="#000" stroke="#000" stroke-width="0.35" font-family="Liberation Serif, serif" font-weight="bold">10<tspan font-size="10.3" dy="-5.6" dx="0.5">8</tspan></text>
<text transform="translate(314.40,403.30) scale(0.93,1)" text-anchor="middle" font-size="14.5" fill="#000" stroke="#000" stroke-width="0.35" font-family="Liberation Serif, serif" font-weight="bold">0</text>
<text transform="translate(354.02,403.30) scale(0.93,1)" text-anchor="middle" font-size="14.5" fill="#000" stroke="#000" stroke-width="0.35" font-family="Liberation Serif, serif" font-weight="bold">0.02</text>
<text transform="translate(393.64,403.30) scale(0.93,1)" text-anchor="middle" font-size="14.5" fill="#000" stroke="#000" stroke-width="0.35" font-family="Liberation Serif, serif" font-weight="bold">0.04</text>
<text transform="translate(433.26,403.30) scale(0.93,1)" text-anchor="middle" font-size="14.5" fill="#000" stroke="#000" stroke-width="0.35" font-family="Liberation Serif, serif" font-weight="bold">0.06</text>
<text transform="translate(472.88,403.30) scale(0.93,1)" text-anchor="middle" font-size="14.5" fill="#000" stroke="#000" stroke-width="0.35" font-family="Liberation Serif, serif" font-weight="bold">0.08</text>
<text transform="translate(512.50,403.30) scale(0.93,1)" text-anchor="middle" font-size="14.5" fill="#000" stroke="#000" stroke-width="0.35" font-family="Liberation Serif, serif" font-weight="bold">0.1</text>
<text transform="translate(367.00,418.00) scale(1.0,1)" text-anchor="start" font-size="14" fill="#000" stroke="#000" stroke-width="0.25" font-family="Liberation Serif, serif" font-weight="bold"><tspan font-style="italic">E</tspan><tspan font-size="9.8" dy="3">C,2D</tspan><tspan dy="-3" dx="-0.6"> - </tspan><tspan font-style="italic" dx="0.2">E</tspan><tspan font-size="10.3" dy="3">T</tspan><tspan dy="-3" dx="9.2">(eV)</tspan></text>
<text transform="translate(284.40,327.00) rotate(-90) scale(1.0,1)" text-anchor="start" font-size="14.3" fill="#000" stroke="#000" stroke-width="0.3" font-family="Liberation Serif, serif" font-weight="bold"><tspan font-style="italic" font-weight="normal" font-size="17.5" stroke-width="0.3">σ</tspan><tspan font-size="9.8" dy="3">H0</tspan><tspan dy="-3" dx="8.5">(Ω</tspan><tspan font-size="9.5" dy="-5.5">-1</tspan><tspan dy="5.5">)</tspan></text>
<text transform="translate(327.00,226.20) scale(1.0,1)" text-anchor="start" font-size="14.3" fill="#000" stroke="#000" stroke-width="0.3" font-family="Liberation Serif, serif" font-weight="bold">(c)</text>
</svg>
</body></html>
